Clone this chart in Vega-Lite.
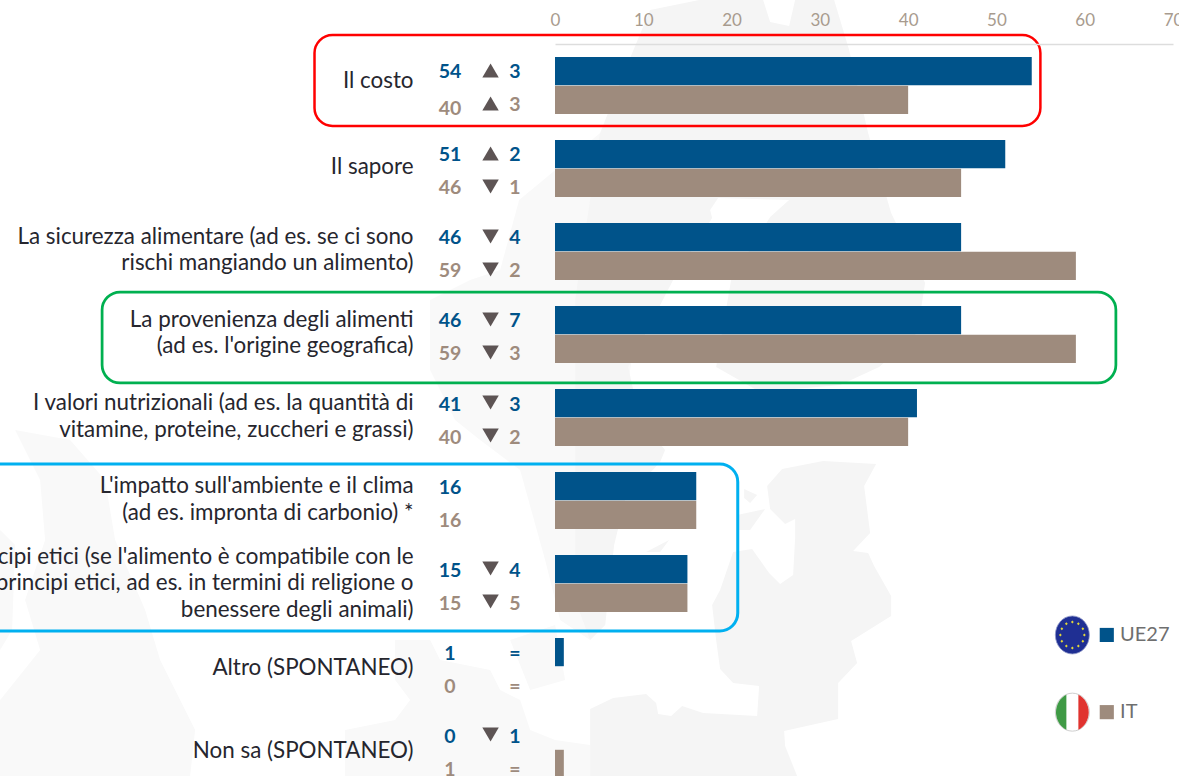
{"$schema":"https://vega.github.io/schema/vega-lite/v6.json","width":618,"height":732,"autosize":"none","padding":{"left":555,"top":44,"right":6,"bottom":0},"background":"#ffffff","datasets":{"bars":[
{"row":"Il costo","series":"UE27","value":54,"dir":"up","delta":"3"},{"row":"Il costo","series":"IT","value":40,"dir":"up","delta":"3"},
{"row":"Il sapore","series":"UE27","value":51,"dir":"up","delta":"2"},{"row":"Il sapore","series":"IT","value":46,"dir":"down","delta":"1"},
{"row":"La sicurezza alimentare (ad es. se ci sono\nrischi mangiando un alimento)","series":"UE27","value":46,"dir":"down","delta":"4"},{"row":"La sicurezza alimentare (ad es. se ci sono\nrischi mangiando un alimento)","series":"IT","value":59,"dir":"down","delta":"2"},
{"row":"La provenienza degli alimenti\n(ad es. l'origine geografica)","series":"UE27","value":46,"dir":"down","delta":"7"},{"row":"La provenienza degli alimenti\n(ad es. l'origine geografica)","series":"IT","value":59,"dir":"down","delta":"3"},
{"row":"I valori nutrizionali (ad es. la quantità di\nvitamine, proteine, zuccheri e grassi)","series":"UE27","value":41,"dir":"down","delta":"3"},{"row":"I valori nutrizionali (ad es. la quantità di\nvitamine, proteine, zuccheri e grassi)","series":"IT","value":40,"dir":"down","delta":"2"},
{"row":"L'impatto sull'ambiente e il clima\n(ad es. impronta di carbonio) *","series":"UE27","value":16,"dir":"none","delta":""},{"row":"L'impatto sull'ambiente e il clima\n(ad es. impronta di carbonio) *","series":"IT","value":16,"dir":"none","delta":""},
{"row":"I principi etici (se l'alimento è compatibile con le\nmiei principi etici, ad es. in termini di religione o\nbenessere degli animali)","series":"UE27","value":15,"dir":"down","delta":"4"},{"row":"I principi etici (se l'alimento è compatibile con le\nmiei principi etici, ad es. in termini di religione o\nbenessere degli animali)","series":"IT","value":15,"dir":"down","delta":"5"},
{"row":"Altro (SPONTANEO)","series":"UE27","value":1,"dir":"none","delta":"="},{"row":"Altro (SPONTANEO)","series":"IT","value":0,"dir":"none","delta":"="},
{"row":"Non sa (SPONTANEO)","series":"UE27","value":0,"dir":"down","delta":"1"},{"row":"Non sa (SPONTANEO)","series":"IT","value":1,"dir":"none","delta":"="}
],"callouts":[
{"name":"costo","x":-27.24,"x2":54.98,"y":-0.108,"y2":0.988},
{"name":"provenienza","x":-51.3,"x2":63.53,"y":2.988,"y2":4.084},
{"name":"etica","x":-70,"x2":20.7,"y":5.06,"y2":7.072}
],"legend":[{"series":"UE27","y":7.12},{"series":"IT","y":8.05}]},
"layer":[
{"data":{"values":[{"anchor":"map"}]},"encoding":{"x":{"datum":-62.85,"type":"quantitative","axis":null},"y":{"datum":-0.53,"type":"quantitative","axis":null,"scale":{"domain":[0,9],"range":[0,747],"nice":false,"zero":false}}},"layer":[
{"mark":{"type":"point","filled":true,"size":4,"opacity":1,"fill":"#f9f9f9","stroke":null,"shape":"M395,640L430,640L440,660L490,670L500,690L520,700L530,730L555,740L590,745L590,776L345,776L345,730L395,720L410,700L395,680ZM510,640L555,625L565,680L530,690ZM15,430L70,440L105,480L115,540L145,610L160,660L195,730L190,776L0,776L0,700L40,650L25,600L45,540L40,480ZM0,530L15,545L12,630L0,650ZM600,133L519,200L500,270L470,280L430,300L430,370L455,420L480,440L520,470L545,560L560,620L590,640L605,625L620,440L640,300Z"}},
{"mark":{"type":"point","filled":true,"size":4,"opacity":1,"fill":"#f5f5f5","stroke":null,"shape":"M699,0L763,0L770,22L789,26L795,0L834,0L849,50L868,133L891,213L925,283L917,333L879,367L840,385L760,392L716,367L731,280L770,217L789,200L718,198L710,210L712,218L673,280L628,367L640,420L665,450L660,462L625,500L614,545L605,625L590,640L575,600L575,300L600,133L625,70L650,10ZM767,486L782,469L823,461L876,464L864,486L870,533L853,551L868,553L874,566L891,596L891,616L851,641L857,663L838,683L838,719L784,731L785,746L797,776L590,776L590,709L613,698L646,694L656,703L658,714L671,716L682,706L703,713L757,716L759,686L733,683L720,669L716,640L712,605L720,590L733,552L752,549L769,573L780,584L793,575L795,538L795,519L785,524L770,509ZM744,489L757,495L750,503L744,498ZM737,515L765,509L750,530L737,530ZM646,552L669,540L660,552Z"}}
]},
{"data":{"name":"bars"},"encoding":{"y":{"field":"row","type":"nominal","axis":null,"sort":null,"scale":{"type":"band","range":[0,747],"paddingInner":0.3133,"paddingOuter":0.1566}},"color":{"field":"series","type":"nominal","legend":null,"scale":{"domain":["UE27","IT"],"range":["#00538a","#9e8b7d"]}}},
"layer":[
{"mark":{"type":"bar","cornerRadius":0},"encoding":{"x":{"field":"value","type":"quantitative","title":null,"scale":{"domain":[0,70],"nice":false},"axis":{"orient":"top","values":[0,10,20,30,40,50,60,70],"grid":false,"ticks":false,"zindex":1,"domainColor":"#dddddd","domainWidth":1.5,"labelColor":"#a89b8e","labelFont":"Lato","labelFontSize":17,"labelPadding":15,"labelAngle":0,"format":"d","labelOverlap":false,"labelBound":false,"labelFlush":false,"title":null}},"yOffset":{"field":"series","sort":["UE27","IT"],"scale":{"paddingInner":0.02,"paddingOuter":0}}}},
{"transform":[{"filter":"datum.series=='UE27' && indexof(datum.row,'\\n')<0 && datum.row!='Il costo' && datum.row!='Il sapore'"}],"mark":{"type":"text","align":"right","baseline":"middle","font":"Lato","fontSize":22.4,"dy":1},"encoding":{"x":{"datum":-16.02,"type":"quantitative","axis":null},"text":{"field":"row"},"color":{"value":"#26262e"}}},
{"transform":[{"filter":"datum.series=='UE27' && datum.row=='Il sapore'"}],"mark":{"type":"text","align":"right","baseline":"middle","font":"Lato","fontSize":22.4,"dy":-1},"encoding":{"x":{"datum":-16.02,"type":"quantitative","axis":null},"text":{"field":"row"},"color":{"value":"#26262e"}}},
{"transform":[{"filter":"datum.series=='UE27' && datum.row=='Il costo'"}],"mark":{"type":"text","align":"right","baseline":"middle","font":"Lato","fontSize":22.4,"dy":-4},"encoding":{"x":{"datum":-16.02,"type":"quantitative","axis":null},"text":{"field":"row"},"color":{"value":"#26262e"}}},
{"transform":[{"filter":"datum.series=='UE27' && indexof(datum.row,'\\n')>=0 && indexof(datum.row,'benessere')<0"}],"mark":{"type":"text","align":"right","baseline":"middle","lineBreak":"\n","lineHeight":26.5,"font":"Lato","fontSize":22.4,"dy":-14.5},"encoding":{"x":{"datum":-16.02,"type":"quantitative","axis":null},"text":{"field":"row"},"color":{"value":"#26262e"}}},
{"transform":[{"filter":"datum.series=='UE27' && indexof(datum.row,'benessere')>=0"}],"mark":{"type":"text","align":"right","baseline":"middle","lineBreak":"\n","lineHeight":26.8,"font":"Lato","fontSize":22.4,"dy":-27},"encoding":{"x":{"datum":-16.02,"type":"quantitative","axis":null},"text":{"field":"row"},"color":{"value":"#26262e"}}},
{"transform":[{"filter":"datum.series=='UE27'"}],"mark":{"type":"text","align":"center","baseline":"middle","font":"Lato","fontWeight":"bold","fontSize":19.5,"dy":-13},"encoding":{"x":{"datum":-11.89,"type":"quantitative","axis":null},"text":{"field":"value"}}},
{"transform":[{"filter":"datum.series=='IT' && datum.row!='Il costo'"}],"mark":{"type":"text","align":"center","baseline":"middle","font":"Lato","fontWeight":"bold","fontSize":19.5,"dy":20},"encoding":{"x":{"datum":-11.89,"type":"quantitative","axis":null},"text":{"field":"value"}}},
{"transform":[{"filter":"datum.series=='IT' && datum.row=='Il costo'"}],"mark":{"type":"text","align":"center","baseline":"middle","font":"Lato","fontWeight":"bold","fontSize":19.5,"dy":24},"encoding":{"x":{"datum":-11.89,"type":"quantitative","axis":null},"text":{"field":"value"}}},
{"transform":[{"filter":"datum.series=='UE27' && datum.delta!=''"}],"mark":{"type":"text","align":"center","baseline":"middle","font":"Lato","fontWeight":"bold","fontSize":19.5,"dy":-13},"encoding":{"x":{"datum":-4.53,"type":"quantitative","axis":null},"text":{"field":"delta"}}},
{"transform":[{"filter":"datum.series=='IT' && datum.delta!=''"}],"mark":{"type":"text","align":"center","baseline":"middle","font":"Lato","fontWeight":"bold","fontSize":19.5,"dy":20},"encoding":{"x":{"datum":-4.53,"type":"quantitative","axis":null},"text":{"field":"delta"}}},
{"transform":[{"filter":"datum.series=='UE27' && datum.dir!='none'"}],"mark":{"type":"point","filled":true,"size":270,"opacity":1,"yOffset":-15,"fill":"#5d5454","stroke":null},"encoding":{"x":{"datum":-7.3,"type":"quantitative","axis":null},"shape":{"field":"dir","legend":null,"scale":{"domain":["up","down"],"range":["triangle-up","triangle-down"]}},"color":{"value":"#5d5454"}}},
{"transform":[{"filter":"datum.series=='IT' && datum.dir!='none'"}],"mark":{"type":"point","filled":true,"size":270,"opacity":1,"yOffset":18,"fill":"#5d5454","stroke":null},"encoding":{"x":{"datum":-7.3,"type":"quantitative","axis":null},"shape":{"field":"dir","legend":null,"scale":{"domain":["up","down"],"range":["triangle-up","triangle-down"]}},"color":{"value":"#5d5454"}}}
],"resolve":{"axis":{"x":"independent"}}},
{"encoding":{"y":{"field":"y","type":"quantitative","axis":null,"scale":{"domain":[0,9],"range":[0,747],"nice":false,"zero":false}}},
"layer":[
{"data":{"name":"callouts"},"mark":{"type":"rect","fill":"transparent","cornerRadius":18},"encoding":{"x":{"field":"x","type":"quantitative","axis":null},"x2":{"field":"x2"},"y2":{"field":"y2"},"stroke":{"field":"name","legend":null,"scale":{"domain":["costo","provenienza","etica"],"range":["#ff0000","#00b050","#00b0f0"]}},"strokeWidth":{"field":"name","type":"ordinal","legend":null,"scale":{"domain":["costo","provenienza","etica"],"range":[2.5,3,3.5]}}}},
{"data":{"name":"legend"},"transform":[{"filter":"datum.series=='UE27'"}],"mark":{"type":"point","filled":true,"size":4,"opacity":1,"fill":"#1f2f93","stroke":"#8f98c8","strokeWidth":0.8,"shape":"M-17,0A17,19 0 1 1 17,0A17,19 0 1 1 -17,0Z"},"encoding":{"x":{"datum":58.6,"type":"quantitative","axis":null}}},
{"data":{"name":"legend"},"transform":[{"filter":"datum.series=='UE27'"}],"mark":{"type":"point","filled":true,"size":4,"opacity":1,"fill":"#e3d83a","stroke":null,"shape":"M0,-14.5L1.4,-13L0,-11.5L-1.4,-13ZM6,-12.6L7.4,-11.1L6,-9.6L4.6,-11.1ZM10.5,-7.7L11.9,-6.2L10.5,-4.7L9.1,-6.2ZM12,-1.5L13.4,0L12,1.5L10.6,0ZM10.5,4.7L11.9,6.2L10.5,7.7L9.1,6.2ZM6,9.6L7.4,11.1L6,12.6L4.6,11.1ZM0,11.5L1.4,13L0,14.5L-1.4,13ZM-6,9.6L-4.6,11.1L-6,12.6L-7.4,11.1ZM-10.5,4.7L-9.1,6.2L-10.5,7.7L-11.9,6.2ZM-12,-1.5L-10.6,0L-12,1.5L-13.4,0ZM-10.5,-7.7L-9.1,-6.2L-10.5,-4.7L-11.9,-6.2ZM-6,-12.6L-4.6,-11.1L-6,-9.6L-7.4,-11.1Z"},"encoding":{"x":{"datum":58.6,"type":"quantitative","axis":null}}},
{"data":{"name":"legend"},"transform":[{"filter":"datum.series=='IT'"}],"mark":{"type":"point","filled":true,"size":4,"opacity":1,"fill":"#ffffff","stroke":"#cfcfcf","strokeWidth":1,"shape":"M-17,0A17,19 0 1 1 17,0A17,19 0 1 1 -17,0Z"},"encoding":{"x":{"datum":58.6,"type":"quantitative","axis":null}}},
{"data":{"name":"legend"},"transform":[{"filter":"datum.series=='IT'"}],"mark":{"type":"point","filled":true,"size":4,"opacity":1,"fill":"#3f9a45","stroke":null,"shape":"M-6,-17.5L-6,17.5A17,19 0 0 1 -6,-17.5Z"},"encoding":{"x":{"datum":58.6,"type":"quantitative","axis":null}}},
{"data":{"name":"legend"},"transform":[{"filter":"datum.series=='IT'"}],"mark":{"type":"point","filled":true,"size":4,"opacity":1,"fill":"#e0332f","stroke":null,"shape":"M6,-17.5A17,19 0 0 1 6,17.5Z"},"encoding":{"x":{"datum":58.6,"type":"quantitative","axis":null}}},
{"data":{"name":"legend"},"mark":{"type":"square","size":200,"opacity":1},"encoding":{"x":{"datum":62.5,"type":"quantitative","axis":null},"color":{"field":"series","legend":null,"scale":{"domain":["UE27","IT"],"range":["#00538a","#9e8b7d"]}}}},
{"data":{"name":"legend"},"mark":{"type":"text","align":"left","baseline":"middle","font":"Lato","fontSize":20,"fill":"#6f6f6f"},"encoding":{"x":{"datum":64,"type":"quantitative","axis":null},"text":{"field":"series"},"color":{"value":"#6f6f6f"}}}
],"resolve":{"axis":{"x":"independent"}}}
],"resolve":{"scale":{"y":"independent","color":"independent"},"axis":{"x":"independent"}},"config":{"view":{"stroke":null}}}
